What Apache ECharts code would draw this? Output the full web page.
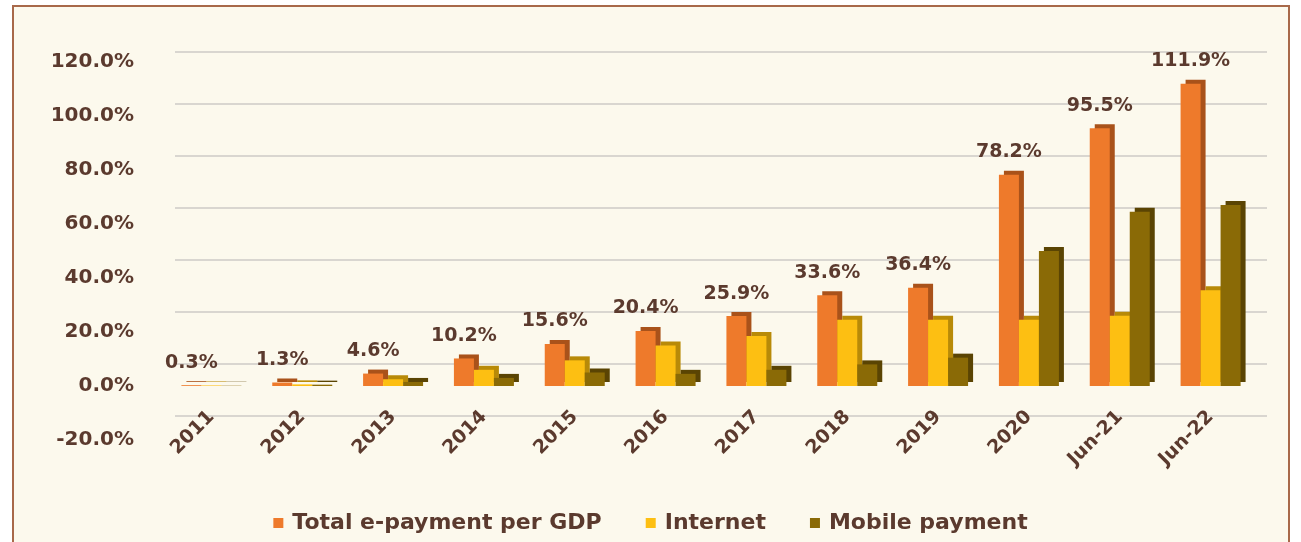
<!DOCTYPE html>
<html>
<head>
<meta charset="utf-8">
<script src="https://cdn.jsdelivr.net/npm/echarts@6/dist/echarts.min.js"></script>
<style>
  html, body { margin: 0; padding: 0; background: #ffffff; }
  #chart { width: 1301px; height: 542px; }
</style>
</head>
<body>
<div id="chart"></div>
<script>
const categories = ['2011', '2012', '2013', '2014', '2015', '2016', '2017', '2018', '2019', '2020', 'Jun-21', 'Jun-22']
const totalPerGdp = [0.3, 1.3, 4.6, 10.2, 15.6, 20.4, 25.9, 33.6, 36.4, 78.2, 95.5, 111.9]
const internet = [0.2, 0.6, 2.5, 6.0, 9.5, 15.0, 18.5, 24.5, 24.5, 24.5, 26.0, 35.5]
const mobile = [0.1, 0.5, 1.5, 3.0, 5.0, 4.5, 6.0, 8.0, 10.5, 50.0, 64.5, 67.0]
const yTicks = [-20, 0, 20, 40, 60, 80, 100, 120]

const textColor = '#5b3a2e'
const font = '"DejaVu Sans", sans-serif'

const chart = echarts.init(document.getElementById('chart'))

function barSeries(name, data, color, side, withLabel) {
  return {
    name: name,
    type: 'bar',
    xAxisIndex: 0,
    yAxisIndex: 0,
    barWidth: 20,
    barGap: '0%',
    data: data,
    itemStyle: {
      color: color,
      shadowColor: side,
      shadowBlur: 0,
      shadowOffsetX: 5,
      shadowOffsetY: -4
    },
    label: {
      show: withLabel,
      position: 'top',
      distance: 13,
      color: textColor,
      fontFamily: font,
      fontWeight: 'bold',
      fontSize: 19,
      formatter: p => p.value.toFixed(1) + '%'
    }
  }
}

const options = {
  backgroundColor: '#ffffff',
  animation: false,
  graphic: [
    {
      type: 'rect',
      z: -10,
      shape: { x: 13, y: 6, width: 1276, height: 560 },
      style: { fill: '#fcf9ed', stroke: '#a8694a', lineWidth: 2 }
    }
  ],
  legend: {
    bottom: 3,
    left: 'center',
    itemWidth: 10,
    itemHeight: 10,
    itemGap: 44,
    icon: 'rect',
    textStyle: { color: textColor, fontFamily: font, fontSize: 22, fontWeight: 'bold', padding: [0, 0, 0, 4] },
    data: ['Total e-payment per GDP', 'Internet', 'Mobile payment']
  },
  grid: [
    // front plane, bars and labels
    { left: 166, right: 45, top: 62, bottom: 102, outerBoundsMode: 'none' },
    // back wall, gridlines
    { left: 175, right: 34, top: 52, bottom: 126, outerBoundsMode: 'none' }
  ],
  xAxis: [
    {
      type: 'category',
      gridIndex: 0,
      data: categories,
      position: 'bottom',
      offset: -54,
      axisLine: { show: false },
      axisTick: { show: false },
      axisLabel: {
        rotate: 45,
        margin: 28,
        color: textColor,
        fontFamily: font,
        fontWeight: 'bold',
        fontSize: 19
      }
    },
    { type: 'value', gridIndex: 1, min: 0, max: 1, show: false }
  ],
  yAxis: [
    {
      type: 'value',
      gridIndex: 0,
      min: yTicks[0],
      max: yTicks[yTicks.length - 1],
      interval: 20,
      axisLine: { show: false },
      axisTick: { show: false },
      splitLine: { show: false },
      axisLabel: {
        margin: 32,
        color: textColor,
        fontFamily: font,
        fontWeight: 'bold',
        fontSize: 20,
        formatter: v => v.toFixed(1) + '%'
      }
    },
    {
      type: 'value',
      gridIndex: 1,
      min: yTicks[0],
      max: yTicks[yTicks.length - 1],
      interval: 20,
      axisLine: { show: false },
      axisTick: { show: false },
      axisLabel: { show: false },
      splitLine: { show: true, lineStyle: { color: '#d9d6d0', width: 2 } }
    }
  ],
  series: [
    barSeries('Total e-payment per GDP', totalPerGdp, '#ee7a2b', '#a9521a', true),
    barSeries('Internet', internet, '#fdbf12', '#b88a08', false),
    barSeries('Mobile payment', mobile, '#8a6a06', '#5a4403', false)
  ]
}

chart.setOption(options)
</script>
</body>
</html>
